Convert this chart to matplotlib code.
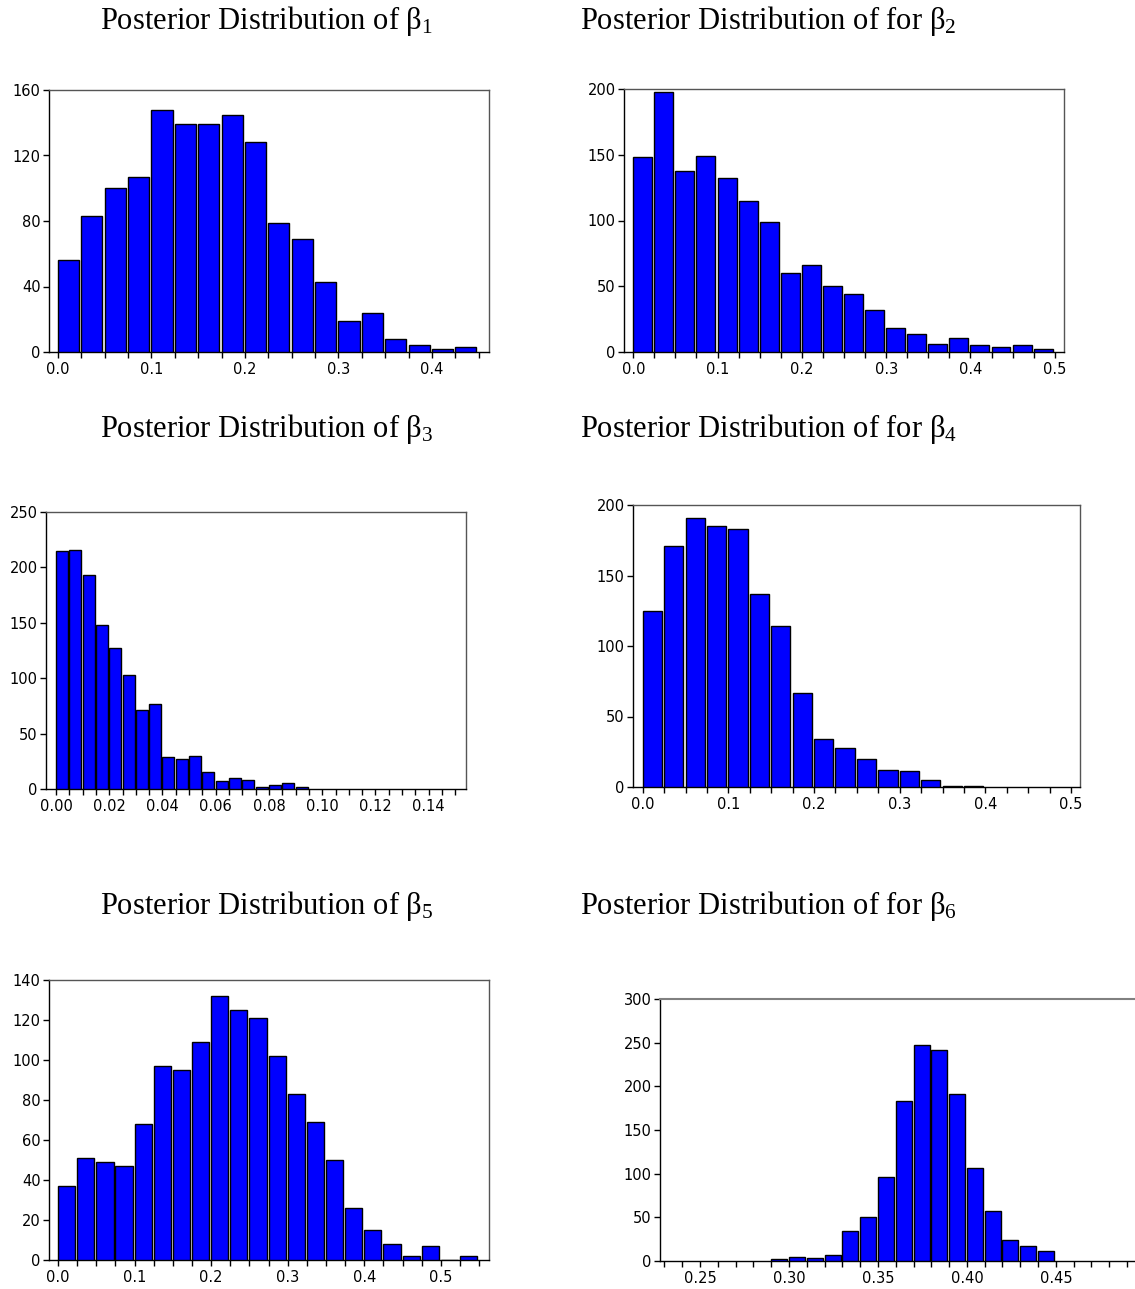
import numpy as np
import matplotlib
matplotlib.use("Agg")
import matplotlib.pyplot as plt
from matplotlib.ticker import MultipleLocator, FormatStrFormatter

# ---------------- data ----------------
titles = [
    r"Posterior Distribution of $\beta_1$",
    r"Posterior Distribution of for $\beta_2$",
    r"Posterior Distribution of $\beta_3$",
    r"Posterior Distribution of for $\beta_4$",
    r"Posterior Distribution of $\beta_5$",
    r"Posterior Distribution of for $\beta_6$",
]

b1_counts = [56, 83, 100, 107, 148, 139, 139, 145, 128, 79, 69, 43, 19, 24, 8, 4, 2, 3]
b2_counts = [148, 198, 138, 149, 132, 115, 99, 60, 66, 50, 44, 32, 18, 14, 6, 11, 5, 4, 5, 2]
b3_counts = [215, 216, 193, 148, 127, 103, 71, 77, 29, 27, 30, 15, 7, 10, 8, 2, 4, 5, 2]
b4_counts = [125, 171, 191, 185, 183, 137, 114, 67, 34, 28, 20, 12, 11, 5, 1, 1]
b5_counts = [37, 51, 49, 47, 68, 97, 95, 109, 132, 125, 121, 102, 83, 69, 50, 26, 15, 8, 2, 7, 0, 2]
b6_counts = [2, 5, 4, 7, 34, 50, 96, 183, 247, 242, 191, 106, 57, 24, 17, 11]

bin_starts = [0.0, 0.0, 0.0, 0.0, 0.0, 0.29]
bin_widths = [0.025, 0.025, 0.005, 0.025, 0.025, 0.01]

y_max = [160, 200, 250, 200, 140, 300]
y_step = [40, 50, 50, 50, 20, 50]
x_major = [0.1, 0.1, 0.02, 0.1, 0.1, 0.05]
x_minor = [0.025, 0.025, 0.005, 0.025, 0.025, 0.01]
x_fmt = ["%.1f", "%.1f", "%.2f", "%.1f", "%.1f", "%.2f"]
x_lims = [(-0.0096, 0.461), (-0.011, 0.511), (-0.00375, 0.154),
          (-0.0113, 0.5105), (-0.0118, 0.563), (0.2275, 0.499)]

all_counts = [b1_counts, b2_counts, b3_counts, b4_counts, b5_counts, b6_counts]

# ---------------- layout (pixels) ----------------
W, H = 1135, 1289
axes_px = [  # left, right, top, bottom
    (49, 489, 90, 352),
    (624, 1064, 89, 352),
    (46, 466, 512, 789),
    (633, 1080, 505, 787),
    (49, 489, 980, 1260),
    (660, 1143, 999, 1261),
]
title_px = [(100, 29), (580, 29), (100, 437), (580, 437), (100, 914), (580, 914)]

plt.rcParams['font.family'] = ['DejaVu Sans']
plt.rcParams['mathtext.fontset'] = 'custom'
plt.rcParams['mathtext.rm'] = 'Liberation Serif'
plt.rcParams['mathtext.it'] = 'Liberation Serif'
plt.rcParams['mathtext.bf'] = 'Liberation Serif'

fig = plt.figure(figsize=(W / 100, H / 100), dpi=100)

for i in range(6):
    l, r, t, b = axes_px[i]
    ax = fig.add_axes([l / W, 1 - b / H, (r - l) / W, (b - t) / H])
    counts = np.array(all_counts[i])
    w = bin_widths[i]
    lefts = bin_starts[i] + w * np.arange(len(counts))
    # grey shadow on the right of each bar, then the blue bar itself
    ax.bar(lefts + w * 0.04, counts, width=w * 0.9, align='edge',
           color='#a8a8a8', edgecolor='none', zorder=2)
    ax.bar(lefts, counts, width=w * 0.9, align='edge',
           color='#0000ff', edgecolor='black', linewidth=1.0, zorder=3)
    ax.set_xlim(*x_lims[i])
    ax.set_ylim(0, y_max[i])
    ax.yaxis.set_major_locator(MultipleLocator(y_step[i]))
    ax.xaxis.set_major_locator(MultipleLocator(x_major[i]))
    ax.xaxis.set_minor_locator(MultipleLocator(x_minor[i]))
    ax.xaxis.set_major_formatter(FormatStrFormatter(x_fmt[i]))
    ax.tick_params(axis='both', which='both', direction='out', length=4,
                   width=1, labelsize=10.5, color='black')
    ax.tick_params(axis='x', pad=3)
    ax.tick_params(axis='y', pad=2)
    for name, s in ax.spines.items():
        s.set_linewidth(1.0)
        s.set_color('black' if name in ('left', 'bottom') else '#555555')
    if i == 5:
        ax.spines['top'].set_color('#808080')
        ax.spines['top'].set_linewidth(1.5)
    tx, ty = title_px[i]
    fig.text(tx / W, 1 - ty / H, titles[i], fontsize=22,
             family='Liberation Serif', ha='left', va='baseline')

fig.savefig("out.png", dpi=100)
